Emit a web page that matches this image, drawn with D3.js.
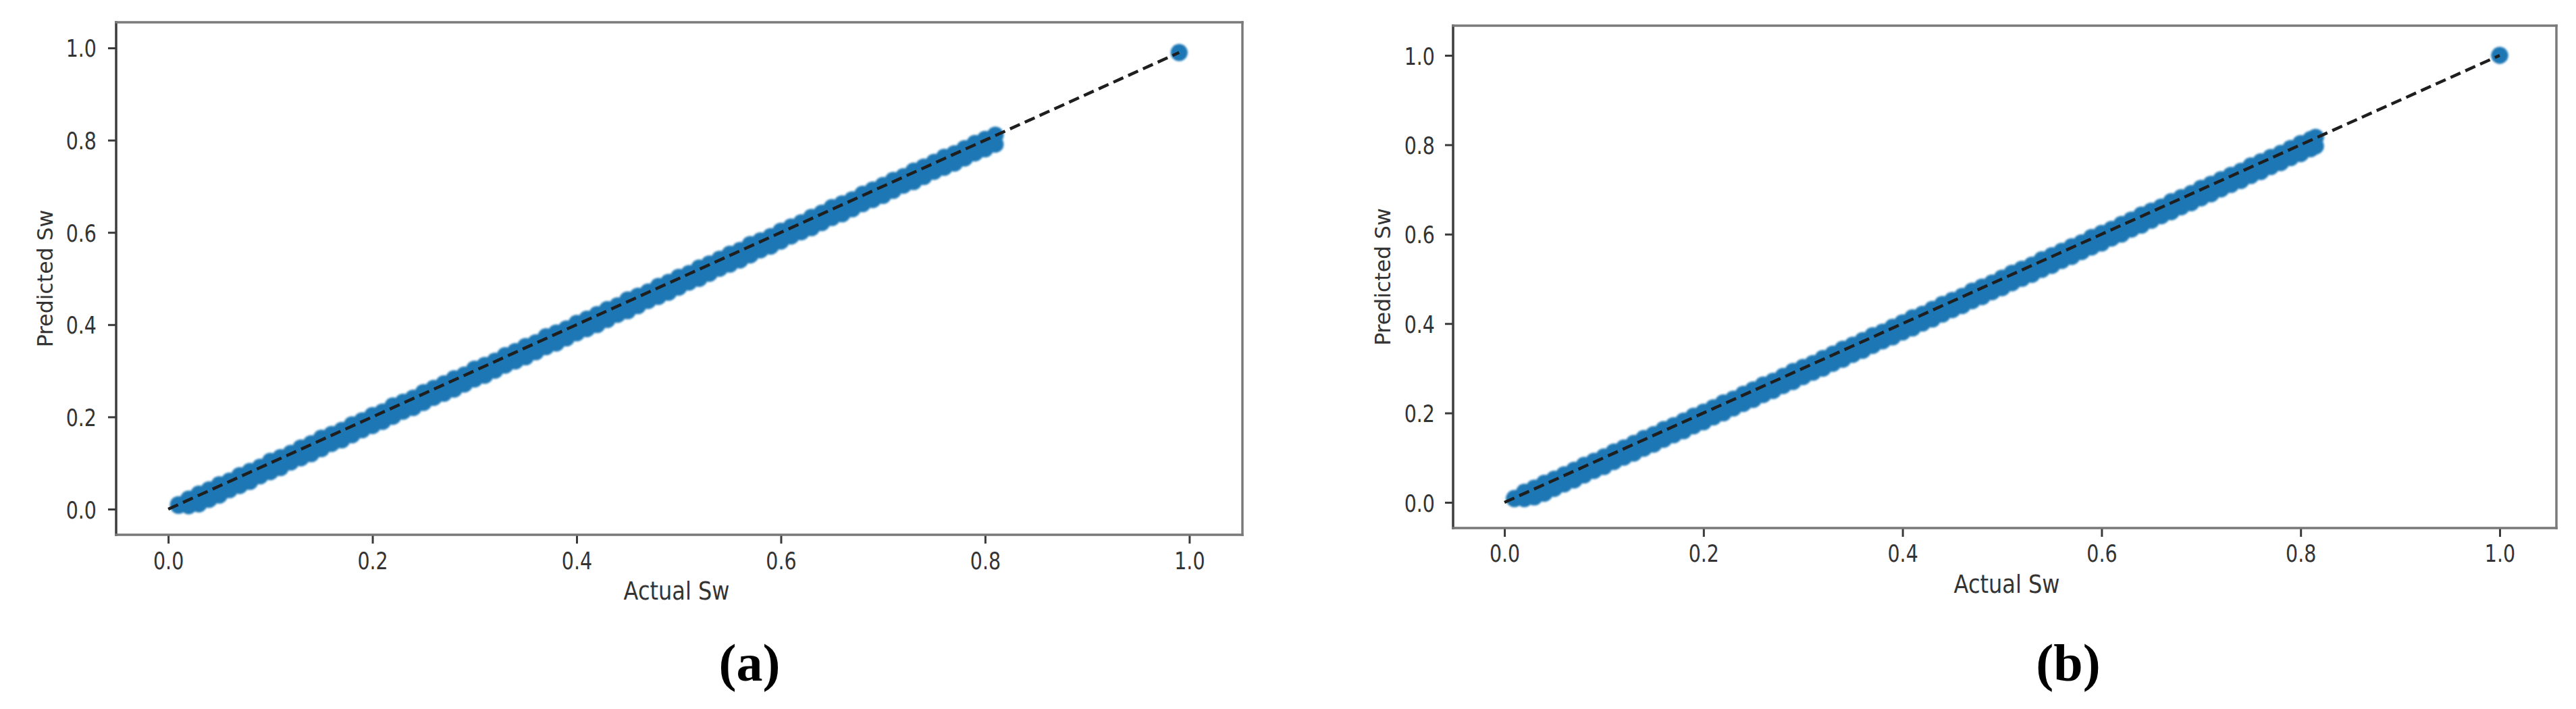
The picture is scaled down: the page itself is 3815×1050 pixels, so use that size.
<!DOCTYPE html>
<meta charset="utf-8">
<head>
  <script src="https://d3js.org/d3.v7.min.js"></script>
  <style>
    body { margin: 0; background: #fff; }
    svg { display: block; }
  </style>
</head>
<body>
<div id="container"></div>
<script>

// ---- data ----
var ticks = [0.0, 0.2, 0.4, 0.6, 0.8, 1.0];

// panel (a)
var actualA = [0.01, 0.02, 0.03, 0.04, 0.05, 0.06, 0.07, 0.08, 0.09, 0.10,
  0.11, 0.12, 0.13, 0.14, 0.15, 0.16, 0.17, 0.18, 0.19, 0.20,
  0.21, 0.22, 0.23, 0.24, 0.25, 0.26, 0.27, 0.28, 0.29, 0.30,
  0.31, 0.32, 0.33, 0.34, 0.35, 0.36, 0.37, 0.38, 0.39, 0.40,
  0.41, 0.42, 0.43, 0.44, 0.45, 0.46, 0.47, 0.48, 0.49, 0.50,
  0.51, 0.52, 0.53, 0.54, 0.55, 0.56, 0.57, 0.58, 0.59, 0.60,
  0.61, 0.62, 0.63, 0.64, 0.65, 0.66, 0.67, 0.68, 0.69, 0.70,
  0.71, 0.72, 0.73, 0.74, 0.75, 0.76, 0.77, 0.78, 0.79, 0.80, 0.81, 0.99];
var predHighA = [0.010, 0.022, 0.033, 0.042, 0.053, 0.061, 0.073, 0.082, 0.091, 0.104,
  0.112, 0.121, 0.133, 0.142, 0.154, 0.162, 0.171, 0.183, 0.192, 0.203,
  0.211, 0.224, 0.232, 0.241, 0.253, 0.262, 0.272, 0.283, 0.291, 0.304,
  0.312, 0.321, 0.333, 0.342, 0.353, 0.361, 0.374, 0.382, 0.391, 0.403,
  0.412, 0.422, 0.433, 0.441, 0.454, 0.462, 0.471, 0.483, 0.492, 0.503,
  0.511, 0.523, 0.532, 0.542, 0.553, 0.561, 0.574, 0.582, 0.591, 0.603,
  0.612, 0.621, 0.633, 0.642, 0.654, 0.662, 0.671, 0.683, 0.692, 0.702,
  0.713, 0.721, 0.733, 0.742, 0.752, 0.763, 0.771, 0.782, 0.793, 0.802, 0.811, 0.990];
var predLowA = [0.008, 0.007, 0.011, 0.021, 0.030, 0.042, 0.051, 0.060, 0.072, 0.081,
  0.090, 0.102, 0.111, 0.120, 0.131, 0.142, 0.150, 0.161, 0.172, 0.181,
  0.190, 0.201, 0.212, 0.220, 0.231, 0.242, 0.251, 0.260, 0.271, 0.282,
  0.290, 0.301, 0.312, 0.321, 0.330, 0.341, 0.352, 0.360, 0.371, 0.382,
  0.391, 0.400, 0.411, 0.422, 0.430, 0.441, 0.452, 0.461, 0.470, 0.481,
  0.492, 0.500, 0.511, 0.522, 0.531, 0.540, 0.551, 0.562, 0.570, 0.581,
  0.592, 0.601, 0.610, 0.621, 0.632, 0.640, 0.651, 0.662, 0.671, 0.680,
  0.691, 0.702, 0.710, 0.721, 0.732, 0.741, 0.750, 0.761, 0.772, 0.781, 0.791, 0.990];
var diagA = [0.0, 0.99];

// panel (b)
var actualB = [0.01, 0.02, 0.03, 0.04, 0.05, 0.06, 0.07, 0.08, 0.09, 0.10,
  0.11, 0.12, 0.13, 0.14, 0.15, 0.16, 0.17, 0.18, 0.19, 0.20,
  0.21, 0.22, 0.23, 0.24, 0.25, 0.26, 0.27, 0.28, 0.29, 0.30,
  0.31, 0.32, 0.33, 0.34, 0.35, 0.36, 0.37, 0.38, 0.39, 0.40,
  0.41, 0.42, 0.43, 0.44, 0.45, 0.46, 0.47, 0.48, 0.49, 0.50,
  0.51, 0.52, 0.53, 0.54, 0.55, 0.56, 0.57, 0.58, 0.59, 0.60,
  0.61, 0.62, 0.63, 0.64, 0.65, 0.66, 0.67, 0.68, 0.69, 0.70,
  0.71, 0.72, 0.73, 0.74, 0.75, 0.76, 0.77, 0.78, 0.79, 0.80, 0.81, 0.815, 1.00];
var predHighB = [0.008, 0.023, 0.032, 0.043, 0.052, 0.062, 0.072, 0.083, 0.092, 0.102,
  0.113, 0.122, 0.132, 0.143, 0.152, 0.163, 0.172, 0.182, 0.193, 0.202,
  0.212, 0.223, 0.231, 0.242, 0.252, 0.263, 0.271, 0.282, 0.293, 0.302,
  0.311, 0.322, 0.332, 0.343, 0.352, 0.362, 0.373, 0.381, 0.392, 0.402,
  0.413, 0.421, 0.432, 0.443, 0.452, 0.461, 0.473, 0.482, 0.491, 0.502,
  0.513, 0.522, 0.531, 0.543, 0.552, 0.562, 0.572, 0.581, 0.593, 0.602,
  0.611, 0.622, 0.632, 0.643, 0.652, 0.661, 0.673, 0.682, 0.691, 0.703,
  0.712, 0.722, 0.732, 0.741, 0.753, 0.762, 0.772, 0.781, 0.792, 0.803, 0.812, 0.817, 1.000];
var predLowB = [0.009, 0.008, 0.012, 0.020, 0.031, 0.041, 0.050, 0.061, 0.071, 0.080,
  0.091, 0.101, 0.110, 0.121, 0.130, 0.141, 0.151, 0.160, 0.171, 0.180,
  0.191, 0.200, 0.211, 0.221, 0.230, 0.241, 0.250, 0.261, 0.270, 0.281,
  0.291, 0.300, 0.311, 0.320, 0.331, 0.340, 0.351, 0.361, 0.370, 0.381,
  0.390, 0.401, 0.410, 0.421, 0.431, 0.440, 0.451, 0.460, 0.471, 0.480,
  0.491, 0.501, 0.510, 0.521, 0.530, 0.541, 0.550, 0.561, 0.571, 0.580,
  0.591, 0.600, 0.611, 0.620, 0.631, 0.641, 0.650, 0.661, 0.670, 0.681,
  0.690, 0.701, 0.711, 0.720, 0.731, 0.740, 0.751, 0.760, 0.771, 0.780, 0.791, 0.797, 1.000];
var diagB = [0.0, 1.0];

var captions = ["(a)", "(b)"];
var xTitle = "Actual Sw";
var yTitle = "Predicted Sw";

// ---- layout ----
var width = 3815, height = 1050;

var svg = d3.select("#container")
  .append("svg")
  .attr("width", width)
  .attr("height", height);

svg.append("rect").attr("width", width).attr("height", height).attr("fill", "#fff");

// soft edge, the source image is an upscaled raster
svg.append("defs").append("filter")
  .attr("id", "soft")
  .append("feGaussianBlur")
  .attr("stdDeviation", 1.8);

function drawPanel(p) {
  var x = d3.scaleLinear().domain(p.xdom).range([p.left, p.right]);
  var y = d3.scaleLinear().domain(p.ydom).range([p.bottom, p.top]);
  var g = svg.append("g");

  // points: two rows per actual value (upper/lower edge of the band)
  var pts = [];
  p.actual.forEach(function (a, i) {
    pts.push([a, p.high[i]]);
    pts.push([a, p.low[i]]);
  });
  g.append("g")
    .attr("filter", "url(#soft)")
    .selectAll("circle")
    .data(pts)
    .join("circle")
    .attr("cx", function (d) { return x(d[0]); })
    .attr("cy", function (d) { return y(d[1]); })
    .attr("r", 12.5)
    .attr("fill", "#1f77b4");

  // dashed identity line
  var line = d3.line()
    .x(function (d) { return x(d); })
    .y(function (d) { return y(d); });
  g.append("path")
    .datum(p.diag)
    .attr("d", line)
    .attr("fill", "none")
    .attr("stroke", "#1e1e1e")
    .attr("stroke-width", 4.5)
    .attr("stroke-dasharray", "16,8");

  // axes
  var xAxis = g.append("g")
    .attr("transform", "translate(0," + p.bottom + ")")
    .call(d3.axisBottom(x).tickValues(ticks).tickSize(13).tickFormat(d3.format(".1f")));
  var yAxis = g.append("g")
    .attr("transform", "translate(" + p.left + ",0)")
    .call(d3.axisLeft(y).tickValues(ticks).tickSize(12).tickFormat(d3.format(".1f")));

  [xAxis, yAxis].forEach(function (ax) {
    ax.select(".domain").remove();
    ax.selectAll(".tick line").attr("stroke", "#3a3a3a").attr("stroke-width", 3);
    ax.selectAll(".tick text")
      .attr("fill", "#333")
      .style("font-family", "'DejaVu Sans', sans-serif")
      .style("font-size", "28.5px")
      .attr("x", 0).attr("y", 0).attr("dy", 0);
  });
  xAxis.selectAll(".tick text")
    .attr("text-anchor", "middle")
    .attr("transform", "translate(0," + p.xLabelDy + ") scale(1,1.26)");
  yAxis.selectAll(".tick text")
    .attr("text-anchor", "end")
    .attr("transform", "translate(" + (-p.yLabelDx) + ",13) scale(1,1.26)");

  // spines
  var spines = [
    [p.left, p.top, p.left, p.bottom, "#3c3c3c"],
    [p.left, p.bottom, p.right, p.bottom, "#777"],
    [p.left, p.top, p.right, p.top, "#7a7a7a"],
    [p.right, p.top, p.right, p.bottom, "#7a7a7a"]
  ];
  g.append("g").selectAll("line")
    .data(spines)
    .join("line")
    .attr("x1", function (d) { return d[0]; })
    .attr("y1", function (d) { return d[1]; })
    .attr("x2", function (d) { return d[2]; })
    .attr("y2", function (d) { return d[3]; })
    .attr("stroke", function (d) { return d[4]; })
    .attr("stroke-width", 3.5)
    .attr("stroke-linecap", "square");

  // titles
  g.append("text")
    .attr("transform", "translate(" + p.xTitleX + "," + p.xTitleY + ") scale(1,1.15)")
    .attr("text-anchor", "middle")
    .attr("fill", "#333")
    .style("font-family", "'DejaVu Sans', sans-serif")
    .style("font-size", "32px")
    .text(xTitle);

  g.append("text")
    .attr("transform", "translate(" + p.yTitleX + "," + ((p.top + p.bottom) / 2) + ") rotate(-90)")
    .attr("text-anchor", "middle")
    .attr("fill", "#333")
    .style("font-family", "'DejaVu Sans', sans-serif")
    .style("font-size", "31.5px")
    .text(yTitle);

  g.append("text")
    .attr("x", p.capX)
    .attr("y", 1008)
    .attr("text-anchor", "middle")
    .attr("fill", "#000")
    .style("font-family", "'Liberation Serif', serif")
    .style("font-weight", "bold")
    .style("font-size", "78px")
    .text(p.caption);
}

drawPanel({
  actual: actualA, high: predHighA, low: predLowA, diag: diagA,
  left: 172, right: 1840, top: 33, bottom: 792,
  xdom: [-0.051, 1.052], ydom: [-0.0556, 1.0556],
  xLabelDy: 51, yLabelDx: 29,
  xTitleX: 1002, xTitleY: 888, yTitleX: 78, capX: 1110, caption: captions[0]
});

drawPanel({
  actual: actualB, high: predHighB, low: predLowB, diag: diagB,
  left: 2152, right: 3786, top: 38, bottom: 782,
  xdom: [-0.0516, 1.057], ydom: [-0.0574, 1.0665],
  xLabelDy: 50, yLabelDx: 27,
  xTitleX: 2972, xTitleY: 878, yTitleX: 2059, capX: 3063, caption: captions[1]
});

</script>
</body>
